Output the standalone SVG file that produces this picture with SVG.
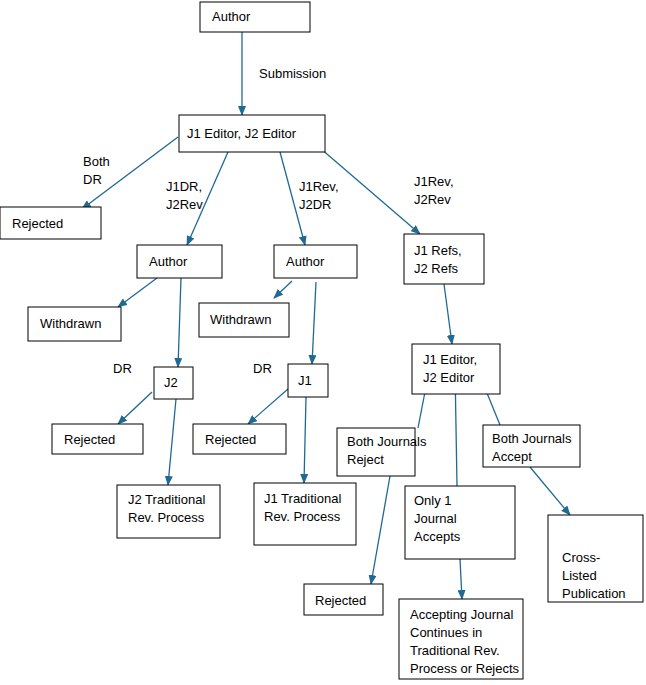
<svg xmlns="http://www.w3.org/2000/svg" width="646" height="685" viewBox="0 0 646 685">
<style>
rect{fill:#fff;stroke:#000;stroke-width:1}
text{font-family:"Liberation Sans",Arial,sans-serif;font-size:13px;fill:#000}
.c line{stroke:#1f6a94;stroke-width:1.3}
.a{marker-end:url(#ah)}
</style>
<defs><marker id="ah" markerWidth="10" markerHeight="8" refX="9" refY="4" orient="auto" markerUnits="userSpaceOnUse"><path d="M0,0L10,4L0,8z" fill="#1f6a94"/></marker></defs>
<rect width="646" height="685" style="stroke:none"/>
<g class="c">
<line class="a" x1="242" y1="32" x2="242" y2="115"/>
<line class="a" x1="178" y1="137" x2="82" y2="209"/>
<line class="a" x1="228" y1="152" x2="187" y2="245"/>
<line class="a" x1="280" y1="152" x2="305" y2="245"/>
<line class="a" x1="313" y1="142" x2="420" y2="234"/>
<line class="a" x1="157" y1="278" x2="118" y2="307"/>
<line class="a" x1="181" y1="278" x2="178" y2="367"/>
<line class="a" x1="292" y1="281" x2="274" y2="298"/>
<line class="a" x1="316" y1="282" x2="312" y2="364"/>
<line class="a" x1="444" y1="284" x2="452" y2="344"/>
<line class="a" x1="152" y1="392" x2="118" y2="424"/>
<line class="a" x1="176" y1="399" x2="168" y2="485"/>
<line class="a" x1="288" y1="389" x2="248" y2="424"/>
<line class="a" x1="306" y1="397" x2="304" y2="483"/>
<line x1="430" y1="366" x2="418" y2="428"/>
<line x1="455" y1="368" x2="457" y2="486"/>
<line x1="487" y1="393" x2="500" y2="425"/>
<line class="a" x1="390" y1="476" x2="371" y2="584"/>
<line class="a" x1="460" y1="559" x2="462" y2="599"/>
<line class="a" x1="530" y1="467" x2="570" y2="515"/>
<text x="259" y="78">Submission</text>
<text x="83" y="166">Both</text><text x="83" y="184">DR</text>
<text x="166" y="191">J1DR,</text><text x="166" y="209">J2Rev</text>
<text x="299" y="191">J1Rev,</text><text x="299" y="209">J2DR</text>
<text x="414" y="186">J1Rev,</text><text x="414" y="204">J2Rev</text>
<text x="113" y="373">DR</text>
<text x="253" y="373">DR</text>
</g>
<g id="author"><rect x="200" y="2" width="110" height="30"/><text x="212" y="21">Author</text></g>
<g id="editors"><rect x="179" y="115" width="146" height="37"/><text x="187" y="138">J1 Editor, J2 Editor</text></g>
<g id="rej0"><rect x="0" y="207" width="101" height="32"/><text x="12" y="228">Rejected</text></g>
<g id="authorA"><rect x="137" y="245" width="85" height="33"/><text x="149" y="266">Author</text></g>
<g id="authorB"><rect x="274" y="245" width="83" height="33"/><text x="286" y="266">Author</text></g>
<g id="refs"><rect x="404" y="234" width="80" height="50"/><text x="414" y="255">J1 Refs,</text><text x="414" y="273">J2 Refs</text></g>
<g id="wd1"><rect x="28" y="307" width="93" height="34"/><text x="40" y="328">Withdrawn</text></g>
<g id="wd2"><rect x="199" y="303" width="90" height="34"/><text x="210" y="324">Withdrawn</text></g>
<g id="j2"><rect x="154" y="367" width="39" height="32"/><text x="164" y="387">J2</text></g>
<g id="j1"><rect x="288" y="364" width="40" height="33"/><text x="298" y="385">J1</text></g>
<g id="editors2"><rect x="412" y="344" width="88" height="50"/><text x="423" y="364">J1 Editor,</text><text x="423" y="382">J2 Editor</text></g>
<g id="rej2"><rect x="52" y="424" width="91" height="30"/><text x="64" y="444">Rejected</text></g>
<g id="rej1"><rect x="193" y="424" width="93" height="30"/><text x="205" y="444">Rejected</text></g>
<g id="bothRej"><rect x="337" y="428" width="78" height="48"/><text x="347" y="446">Both Journals</text><text x="347" y="464">Reject</text></g>
<g id="bothAcc"><rect x="483" y="425" width="97" height="42"/><text x="492" y="443">Both Journals</text><text x="492" y="461">Accept</text></g>
<g id="j2trad"><rect x="117" y="485" width="103" height="53"/><text x="128" y="504">J2 Traditional</text><text x="128" y="522">Rev. Process</text></g>
<g id="j1trad"><rect x="254" y="483" width="102" height="62"/><text x="264" y="503">J1 Traditional</text><text x="264" y="521">Rev. Process</text></g>
<g id="only1"><rect x="405" y="486" width="110" height="73"/><text x="414" y="505">Only 1</text><text x="414" y="523">Journal</text><text x="414" y="541">Accepts</text></g>
<g id="cross"><rect x="548" y="515" width="95" height="87"/><text x="562" y="562">Cross-</text><text x="562" y="580">Listed</text><text x="562" y="598">Publication</text></g>
<g id="rej3"><rect x="304" y="584" width="79" height="31"/><text x="315" y="605">Rejected</text></g>
<g id="acc"><rect x="399" y="599" width="124" height="80"/><text x="410" y="619">Accepting Journal</text><text x="410" y="637">Continues in</text><text x="410" y="655">Traditional Rev.</text><text x="410" y="673">Process or Rejects</text></g>
</svg>
